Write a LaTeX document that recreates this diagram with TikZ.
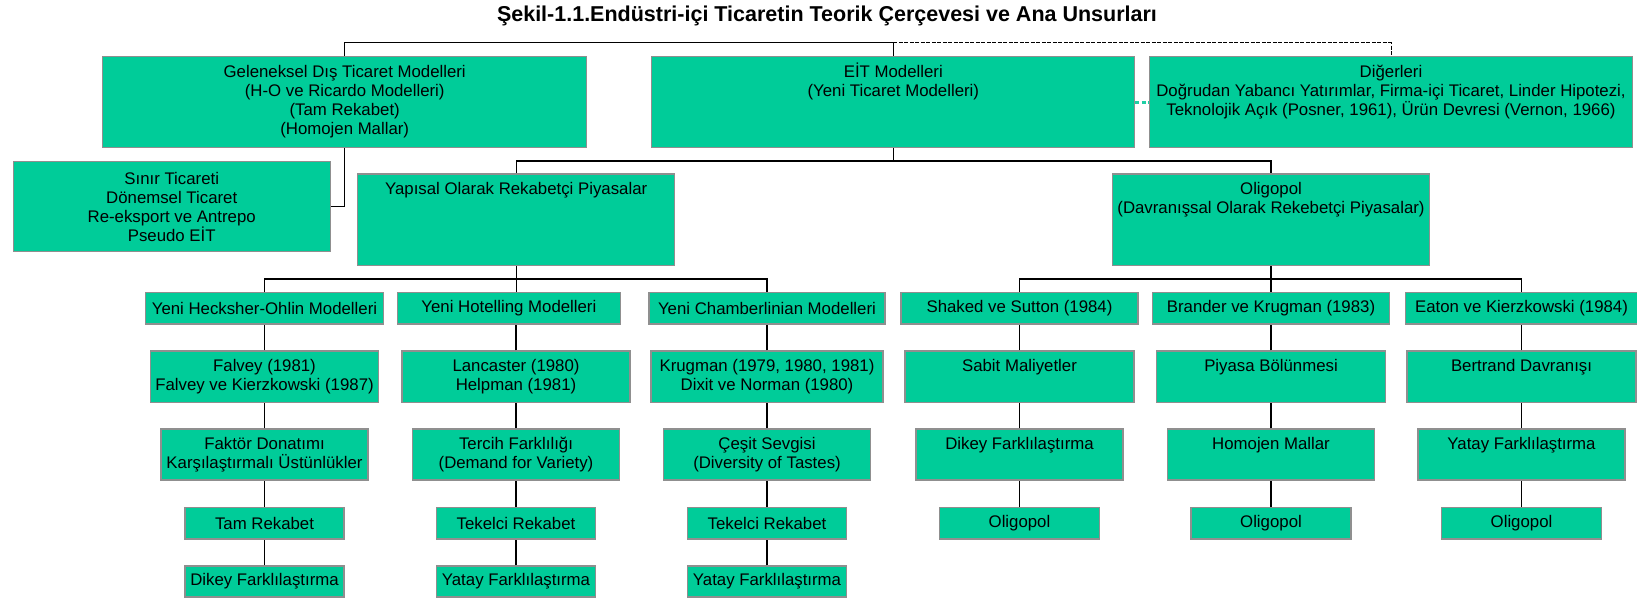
\documentclass[tikz,border=0pt]{standalone}
\usepackage{fontspec}
\setmainfont{Liberation Sans}
\definecolor{eitgreen}{HTML}{00CC99}
\definecolor{boxgray}{HTML}{8F8F8F}
\definecolor{linkgreen}{HTML}{1FCFA5}
\newcommand{\eitfont}{\fontsize{16.8}{19}\selectfont}
\newcommand{\titlefont}{\fontsize{21.5}{25}\selectfont\bfseries}
\newcommand{\toptext}[3]{\parbox[t][#2][t]{#1}{\centering\rule{0pt}{20.5pt}#3}}

\begin{document}
\begin{tikzpicture}[x=1pt,y=-1pt,
  box/.style={draw=boxgray,fill=eitgreen,line width=1.2pt,inner sep=0pt,align=center,font=\eitfont},
  link/.style={line width=1.1pt},
  toplink/.style={line width=0.9pt,dash pattern=on 4pt off 1.5pt},
  sidelink/.style={linkgreen,line width=3pt,dash pattern=on 4pt off 2.5pt}]
\useasboundingbox (0,0) rectangle (1637,600);
\node[font=\titlefont,anchor=base] (title) at (827,21.7) {Şekil-1.1.Endüstri-içi Ticaretin Teorik Çerçevesi ve Ana Unsurları};
\node[box,minimum width=484pt,minimum height=90.6pt] (gel) at (344.7,102) {Geleneksel Dış Ticaret Modelleri\\(H-O ve Ricardo Modelleri)\\(Tam Rekabet)\\(Homojen Mallar)};
\node[box] (eit) at (893.3,102) {\toptext{483pt}{90.6pt}{EİT Modelleri\\(Yeni Ticaret Modelleri)}};
\node[box] (dig) at (1391,102) {\toptext{483pt}{90.6pt}{Diğerleri\\Doğrudan Yabancı Yatırımlar, Firma-içi Ticaret, Linder Hipotezi,\\Teknolojik Açık (Posner, 1961), Ürün Devresi (Vernon, 1966)}};
\node[box,minimum width=317pt,minimum height=90pt] (sinir) at (171.7,206.7) {Sınır Ticareti\\Dönemsel Ticaret\\Re-eksport ve Antrepo\\Pseudo EİT};
\node[box] (yap) at (516.2,219.8) {\toptext{317pt}{91.7pt}{Yapısal Olarak Rekabetçi Piyasalar}};
\node[box] (oli) at (1271,219.8) {\toptext{317.5pt}{91.7pt}{Oligopol\\(Davranışsal Olarak Rekebetçi Piyasalar)}};
\node[box,minimum width=238pt,minimum height=31.3pt] (hek) at (264.5,308.3) {Yeni Hecksher-Ohlin Modelleri};
\node[box,minimum width=223pt,minimum height=31.3pt] (hot) at (508.9,308.3) {Yeni Hotelling Modelleri};
\node[box,minimum width=236pt,minimum height=31.3pt] (cha) at (767,308.3) {Yeni Chamberlinian Modelleri};
\node[box,minimum width=237pt,minimum height=31.3pt] (sha) at (1019.5,308.3) {Shaked ve Sutton (1984)};
\node[box,minimum width=237pt,minimum height=31.3pt] (bra) at (1271,308.3) {Brander ve Krugman (1983)};
\node[box,minimum width=232pt,minimum height=31.3pt] (eat) at (1521.5,308.3) {Eaton ve Kierzkowski (1984)};
\node[box,minimum width=228pt,minimum height=51.3pt] (fal) at (264.5,376.7) {Falvey (1981)\\Falvey ve Kierzkowski (1987)};
\node[box,minimum width=228pt,minimum height=51.3pt] (lan) at (516,376.7) {Lancaster (1980)\\Helpman (1981)};
\node[box,minimum width=232pt,minimum height=51.3pt] (kru) at (767,376.7) {Krugman (1979, 1980, 1981)\\Dixit ve Norman (1980)};
\node[box] (sab) at (1019.5,376.7) {\toptext{229pt}{51.3pt}{Sabit Maliyetler}};
\node[box] (piy) at (1271,376.7) {\toptext{229pt}{51.3pt}{Piyasa Bölünmesi}};
\node[box] (ber) at (1521.5,376.7) {\toptext{229pt}{51.3pt}{Bertrand Davranışı}};
\node[box,minimum width=207pt,minimum height=51pt] (fak) at (264.5,454.5) {Faktör Donatımı\\Karşılaştırmalı Üstünlükler};
\node[box,minimum width=207pt,minimum height=51pt] (ter) at (516,454.5) {Tercih Farklılığı\\(Demand for Variety)};
\node[box,minimum width=207pt,minimum height=51pt] (ces) at (767,454.5) {Çeşit Sevgisi\\(Diversity of Tastes)};
\node[box] (dik) at (1019.5,454.5) {\toptext{207pt}{51pt}{Dikey Farklılaştırma}};
\node[box] (hom) at (1271,454.5) {\toptext{207pt}{51pt}{Homojen Mallar}};
\node[box] (yat) at (1521.5,454.5) {\toptext{207pt}{51pt}{Yatay Farklılaştırma}};
\node[box,minimum width=159pt,minimum height=31.3pt] (tam) at (264.5,523.3) {Tam Rekabet};
\node[box,minimum width=159pt,minimum height=31.3pt] (tek) at (516,523.3) {Tekelci Rekabet};
\node[box,minimum width=159pt,minimum height=31.3pt] (tekb) at (767,523.3) {Tekelci Rekabet};
\node[box,minimum width=160pt,minimum height=31.3pt] (olia) at (1019.5,523.3) {Oligopol};
\node[box,minimum width=160pt,minimum height=31.3pt] (olib) at (1271,523.3) {Oligopol};
\node[box,minimum width=160pt,minimum height=31.3pt] (olic) at (1521.5,523.3) {Oligopol};
\node[box,minimum width=159pt,minimum height=31pt] (dikf) at (264.5,581.5) {Dikey Farklılaştırma};
\node[box,minimum width=159pt,minimum height=31pt] (yatf) at (516,581.5) {Yatay Farklılaştırma};
\node[box,minimum width=159pt,minimum height=31pt] (yatg) at (767,581.5) {Yatay Farklılaştırma};
\coordinate (topl) at (893.3,42.7);
\coordinate (eitbar) at (893.3,161);
\coordinate (yapbar) at (516.2,279);
\coordinate (olibar) at (1271,279);
\draw[link] (gel.north) |- (topl) -- (eit.north);
\draw[toplink] (topl) -| (dig.north);
\draw[sidelink] (eit.east) -- (dig.west);
\draw[link] (gel.south) |- (sinir.east);
\draw[link] (eit.south) -- (eitbar);
\draw[link] (yap.north) |- (eitbar) -| (oli.north);
\draw[link] (hek.north) |- (yapbar) -| (cha.north);
\draw[link] (yap.south) -- (yap.south |- hot.north);
\draw[link] (sha.north) |- (olibar) -| (eat.north);
\draw[link] (oli.south) -- (bra.north);
\foreach \a/\b in {hek/fal,fal/fak,fak/tam,tam/dikf,hot/lan,lan/ter,ter/tek,tek/yatf,cha/kru,kru/ces,ces/tekb,tekb/yatg,sha/sab,sab/dik,dik/olia,bra/piy,piy/hom,hom/olib,eat/ber,ber/yat,yat/olic}
  \draw[link] (\b.north) -- (\b.north |- \a.south);
\end{tikzpicture}
\end{document}
